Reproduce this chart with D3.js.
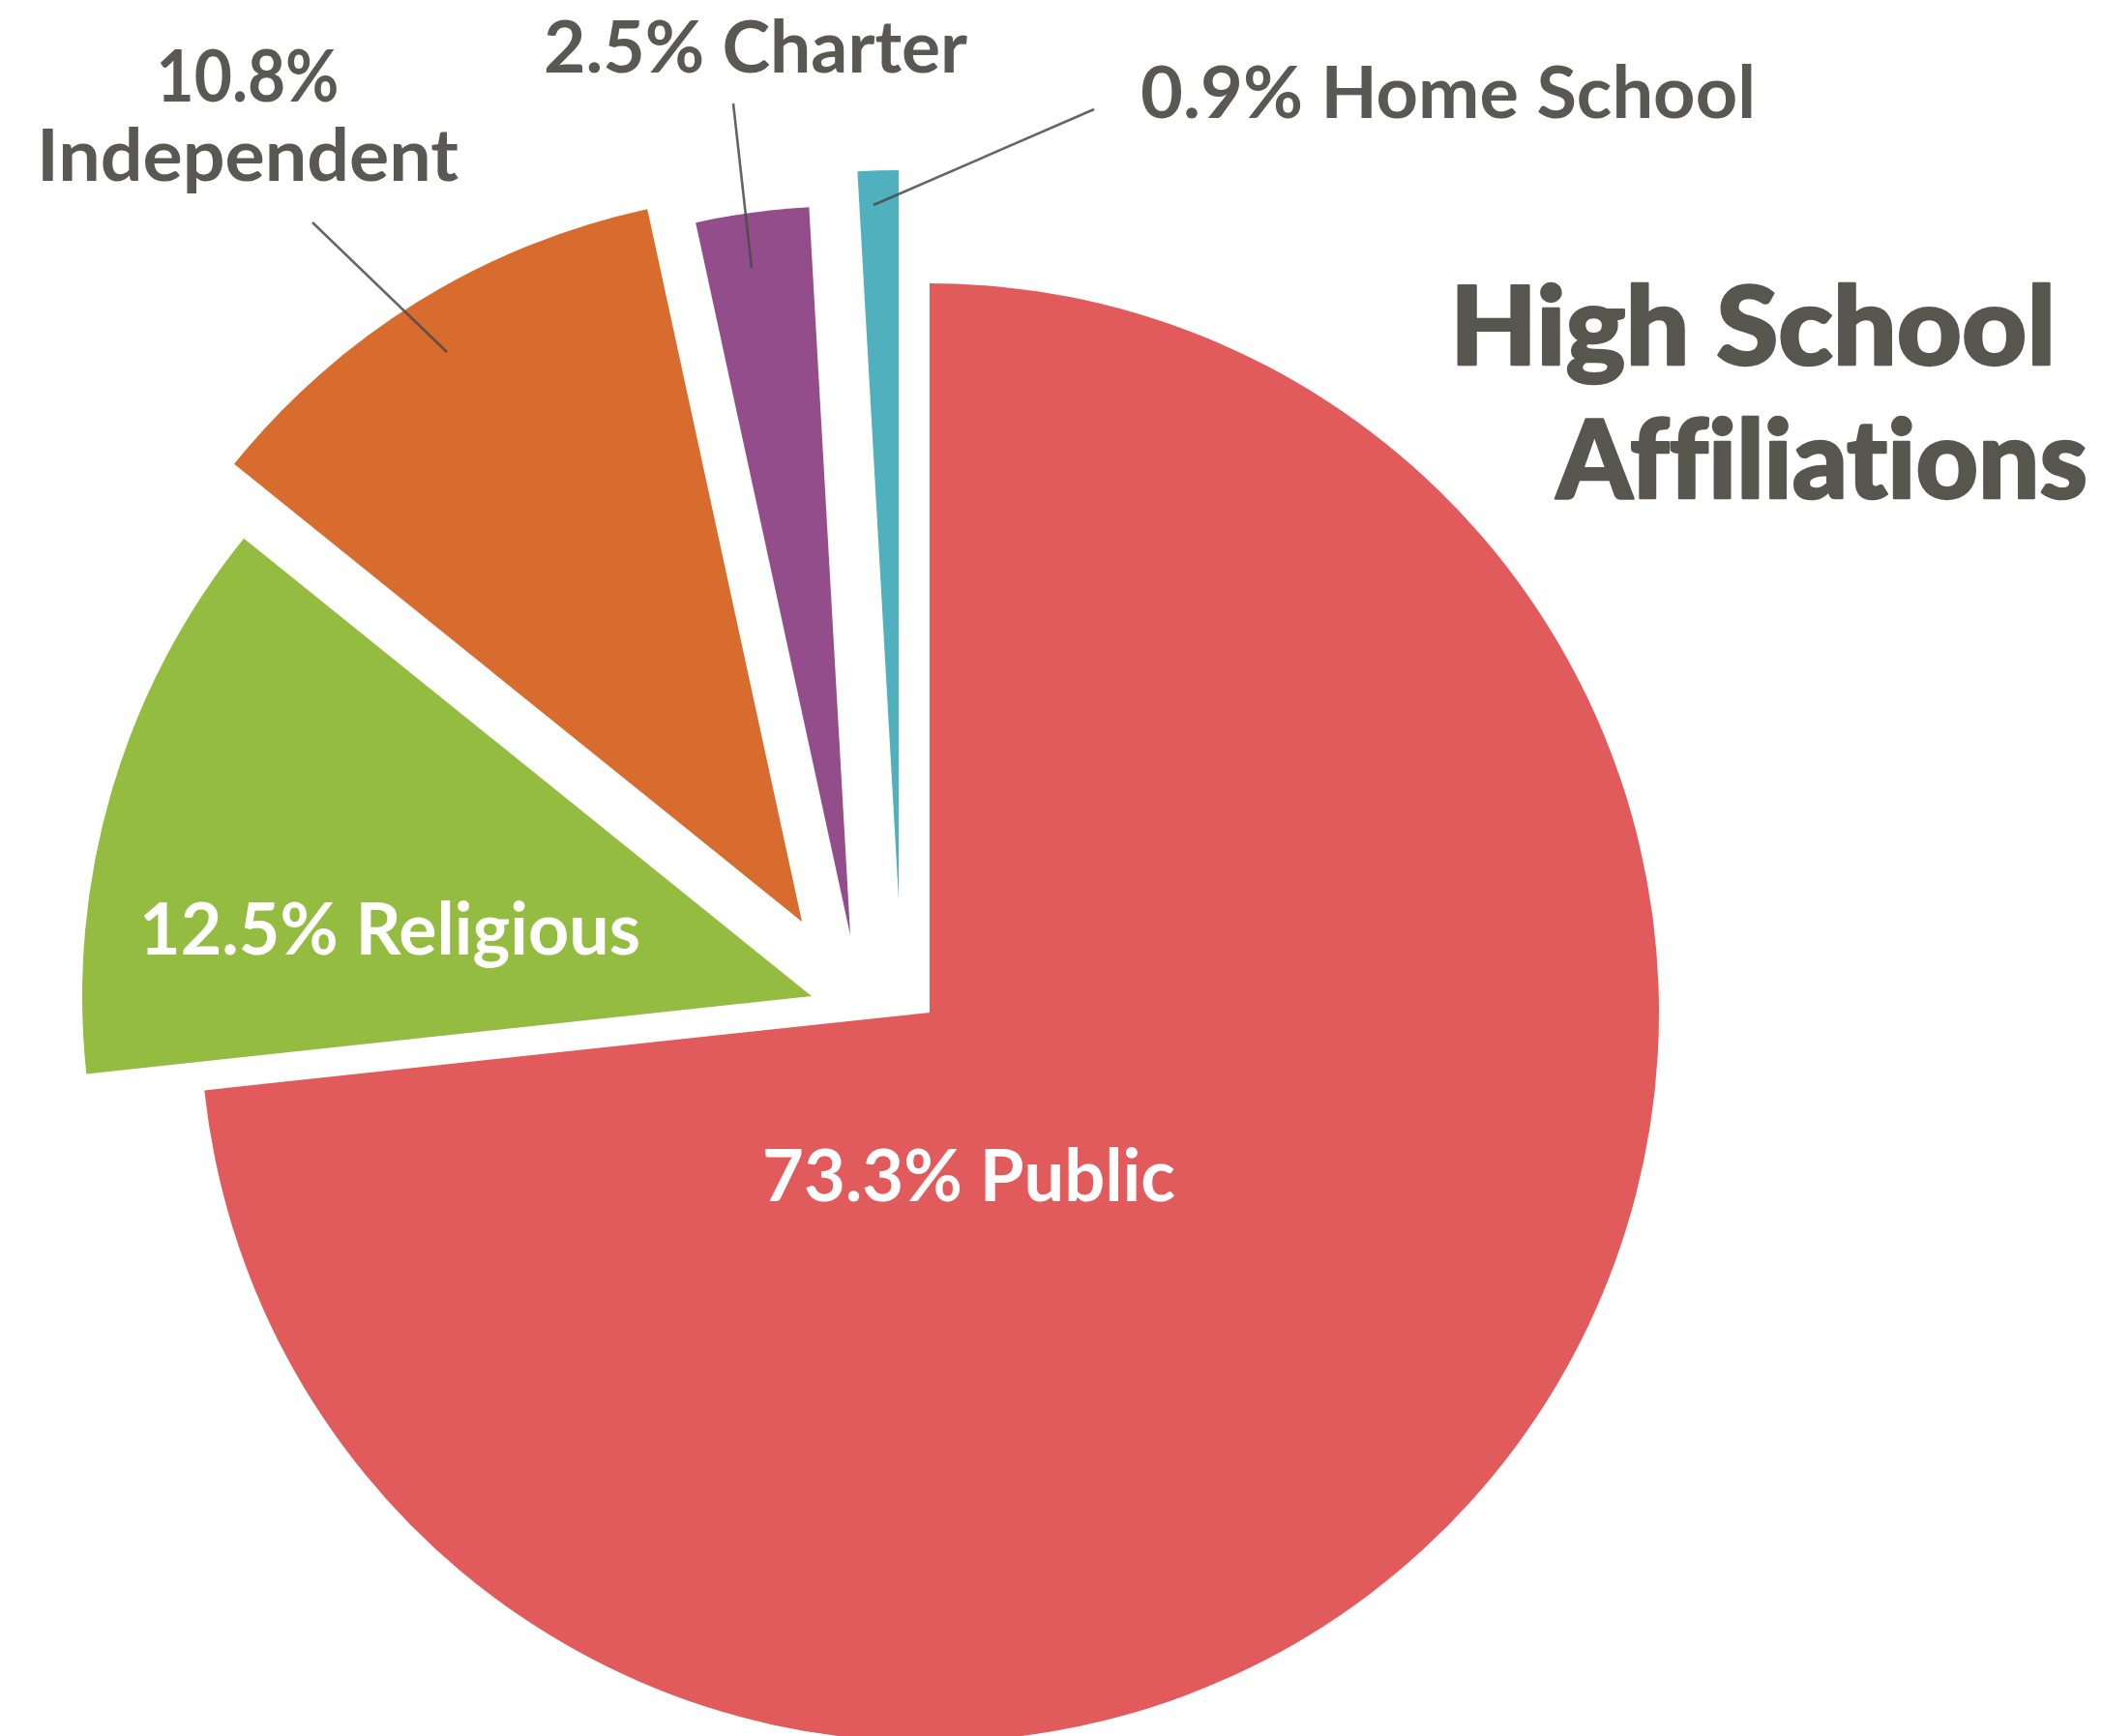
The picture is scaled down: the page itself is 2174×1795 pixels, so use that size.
<!DOCTYPE html>
<html>
<head>
<meta charset="utf-8">
<script src="https://cdn.jsdelivr.net/npm/d3@7"></script>
<style>
  html, body { margin: 0; padding: 0; background: #ffffff; }
  svg { display: block; }
  text { font-variant-ligatures: none; font-feature-settings: "liga" 0, "clig" 0, "dlig" 0; }
</style>
</head>
<body>
<script>
// ---- data ----
const categories = ["Public", "Religious", "Independent", "Charter", "Home School"];
const values = [73.3, 12.5, 10.8, 2.5, 0.9];
const colors = ["#E25B5C", "#93BC41", "#D86B2E", "#934D8A", "#51B0BE"];
const titleLines = ["High School", "Affiliations"];

// ---- layout (not data) ----
const W = 2174, H = 1795;
const cx = 961, cy = 1047, R = 754;
// explode offsets of each slice relative to the pie centre
const explode = [[0, 0], [-122, -17], [-132, -94], [-82, -80], [-32, -117]];
// label layout: anchor x, baselines, target widths, fill, anchor
const labelLayout = [
  { x: 788, y: [1242], w: [427], fill: "#ffffff", anchor: "start", split: false },
  { x: 144, y: [987], w: [518], fill: "#ffffff", anchor: "start", split: false },
  { x: 256, y: [105, 187], w: [189, 436], fill: "#595853", anchor: "middle", split: true },
  { x: 562, y: [75], w: [438], fill: "#595853", anchor: "start", split: false },
  { x: 1179, y: [122], w: [636], fill: "#595853", anchor: "start", split: false }
];
const leaders = [
  null, null,
  [[323, 230], [462, 364]],
  [[758, 107], [777, 277]],
  [[1131, 113], [903, 212]]
];
const labelSize = 74, titleSize = 113;
const fontFam = "Lato, 'Open Sans', 'DejaVu Sans', sans-serif";

const svg = d3.select("body").append("svg")
  .attr("width", W).attr("height", H)
  .attr("viewBox", `0 0 ${W} ${H}`);

svg.append("rect").attr("width", W).attr("height", H).attr("fill", "#ffffff");

const pie = d3.pie().sort(null).value(d => d.value).startAngle(0).endAngle(2 * Math.PI);
const arc = d3.arc().innerRadius(0).outerRadius(R);

const data = categories.map((c, i) => ({ name: c, value: values[i], color: colors[i], idx: i }));
const arcs = pie(data);

const g = svg.append("g").attr("transform", `translate(${cx},${cy})`);
g.selectAll("path.slice")
  .data(arcs)
  .join("path")
  .attr("class", "slice")
  .attr("transform", d => `translate(${explode[d.data.idx][0]},${explode[d.data.idx][1]})`)
  .attr("d", arc)
  .attr("fill", d => d.data.color);

// leader lines
leaders.forEach(l => {
  if (!l) return;
  svg.append("line")
    .attr("x1", l[0][0]).attr("y1", l[0][1])
    .attr("x2", l[1][0]).attr("y2", l[1][1])
    .attr("stroke", "#4a4a48").attr("stroke-opacity", 0.85)
    .attr("stroke-width", 2.6);
});

// labels
data.forEach((d, i) => {
  const L = labelLayout[i];
  const pct = d.value.toFixed(1) + "%";
  const lines = L.split ? [pct, d.name] : [pct + " " + d.name];
  lines.forEach((t, k) => {
    svg.append("text")
      .attr("x", L.x).attr("y", L.y[k])
      .attr("text-anchor", L.anchor)
      .attr("font-family", fontFam)
      .attr("font-weight", 700)
      .attr("font-size", labelSize)
      .attr("fill", L.fill)
      .attr("textLength", L.w[k])
      .attr("lengthAdjust", "spacingAndGlyphs")
      .text(t);
  });
});

// title
const titleLayout = [{ x: 1499, y: 377, w: 626 }, { x: 1609, y: 515, w: 549 }];
titleLines.forEach((t, k) => {
  svg.append("text")
    .attr("x", titleLayout[k].x).attr("y", titleLayout[k].y)
    .attr("font-family", fontFam)
    .attr("font-weight", 900)
    .attr("font-size", titleSize)
    .attr("fill", "#57564f")
    .attr("stroke", "#57564f")
    .attr("stroke-width", 2.5)
    .attr("stroke-linejoin", "round")
    .attr("textLength", titleLayout[k].w)
    .attr("lengthAdjust", "spacingAndGlyphs")
    .text(t);
});
</script>
</body>
</html>
